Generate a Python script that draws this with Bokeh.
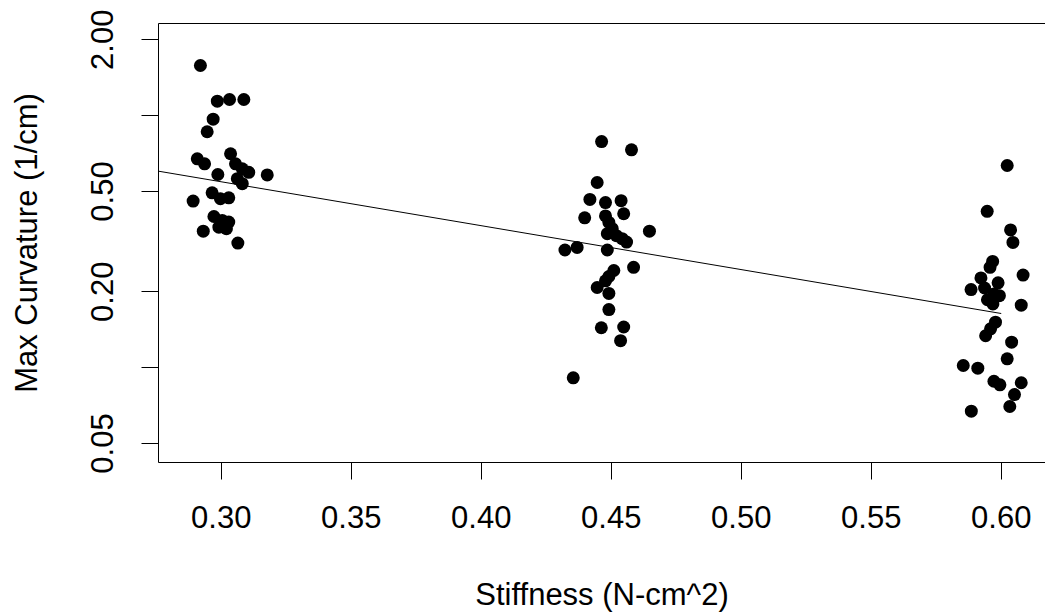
from bokeh.plotting import figure
from bokeh.models import (FixedTicker, CustomJSTickFormatter, LinearAxis,
                          Range1d, ColumnDataSource)
from bokeh.embed import file_html
from bokeh.resources import INLINE

# ---- data ----
stiff_g1 = [0.2920, 0.2985, 0.3032, 0.3087, 0.2969, 0.2946, 0.2908, 0.2936,
            0.3036, 0.3055, 0.3081, 0.3106, 0.3177, 0.2987, 0.3062, 0.3081,
            0.2965, 0.2892, 0.2997, 0.3029, 0.2972, 0.3004, 0.3029, 0.2991,
            0.2931, 0.3064, 0.3020]
curv_g1 = [1.581, 1.141, 1.159, 1.159, 0.968, 0.863, 0.674, 0.644,
           0.706, 0.644, 0.615, 0.596, 0.582, 0.584, 0.562, 0.537,
           0.494, 0.458, 0.468, 0.472, 0.398, 0.384, 0.378, 0.361,
           0.348, 0.312, 0.356]

stiff_g2 = [0.4463, 0.4578, 0.4446, 0.4418, 0.4478, 0.4538, 0.4548, 0.4398,
            0.4478, 0.4491, 0.4504, 0.4647, 0.4485, 0.4520, 0.4542, 0.4559,
            0.4322, 0.4369, 0.4485, 0.4586, 0.4510, 0.4491, 0.4478, 0.4446,
            0.4491, 0.4491, 0.4462, 0.4548, 0.4536, 0.4354]
curv_g2 = [0.789, 0.732, 0.543, 0.465, 0.452, 0.460, 0.408, 0.393,
           0.400, 0.377, 0.356, 0.348, 0.340, 0.334, 0.325, 0.315,
           0.293, 0.300, 0.293, 0.250, 0.243, 0.230, 0.221, 0.208,
           0.197, 0.170, 0.144, 0.145, 0.128, 0.0911]

stiff_g3 = [0.6023, 0.5946, 0.6036, 0.6045, 0.5967, 0.5957, 0.6084, 0.5922,
            0.5988, 0.5884, 0.5936, 0.5972, 0.5993, 0.5947, 0.5968, 0.6077,
            0.5978, 0.5959, 0.5940, 0.6040, 0.6023, 0.5854, 0.5910, 0.5972,
            0.5995, 0.6077, 0.6051, 0.6033, 0.5885]
curv_g3 = [0.634, 0.417, 0.352, 0.314, 0.264, 0.250, 0.233, 0.227,
           0.217, 0.204, 0.207, 0.196, 0.193, 0.186, 0.179, 0.177,
           0.1515, 0.1426, 0.1338, 0.1262, 0.1084, 0.1020, 0.0995, 0.0883,
           0.0855, 0.0871, 0.0782, 0.0701, 0.0672]

# fitted line (log-scale regression), end points
fit_x = [0.2759, 0.600]
fit_y = [0.602, 0.164]

x_ticks = [0.30, 0.35, 0.40, 0.45, 0.50, 0.55, 0.60]
x_tick_labels = ["0.30", "0.35", "0.40", "0.45", "0.50", "0.55", "0.60"]
y_ticks = [0.05, 0.1, 0.2, 0.5, 1.0, 2.0]
y_tick_labels = ["0.05", "", "0.20", "0.50", "", "2.00"]

x_title = "Stiffness (N-cm^2)"
y_title = "Max Curvature (1/cm)"

# ---- figure ----
FONT = "Liberation Sans"
p = figure(width=1045, height=615,
           x_range=Range1d(0.27588, 0.61703),
           y_range=Range1d(0.04203, 2.3211),
           y_axis_type="log",
           output_backend="svg", toolbar_location=None,
           min_border_left=158, min_border_right=0,
           min_border_top=23, min_border_bottom=153)
p.grid.visible = False
p.outline_line_color = None
p.background_fill_color = "white"
p.border_fill_color = "white"

pts = ColumnDataSource(dict(x=stiff_g1 + stiff_g2 + stiff_g3,
                            y=curv_g1 + curv_g2 + curv_g3))
p.scatter("x", "y", source=pts, size=13, fill_color="black",
          line_color=None, marker="circle")
p.line(fit_x, fit_y, line_color="black", line_width=1)

fmt_code = """
for (let i = 0; i < vals.length; i++) {
  if (Math.abs(tick - vals[i]) < 1e-6 * Math.abs(vals[i]) + 1e-12) return labs[i];
}
return "";
"""

def style_axis(ax):
    ax.axis_line_color = "black"
    ax.axis_line_width = 1
    ax.major_tick_line_color = "black"
    ax.major_tick_line_width = 1
    ax.major_tick_in = 0
    ax.major_tick_out = 17
    ax.minor_tick_line_color = None
    ax.major_label_text_font = FONT
    ax.major_label_text_font_size = "31px"
    ax.major_label_text_color = "black"
    ax.axis_label_text_font = FONT
    ax.axis_label_text_font_size = "31px"
    ax.axis_label_text_font_style = "normal"
    ax.axis_label_text_color = "black"

xa = p.xaxis[0]
style_axis(xa)
xa.ticker = FixedTicker(ticks=x_ticks)
xa.formatter = CustomJSTickFormatter(args=dict(vals=x_ticks, labs=x_tick_labels), code=fmt_code)
xa.major_label_standoff = 26
xa.axis_label = x_title
xa.axis_label_standoff = 46

ya = p.yaxis[0]
style_axis(ya)
ya.ticker = FixedTicker(ticks=y_ticks)
ya.formatter = CustomJSTickFormatter(args=dict(vals=y_ticks, labs=y_tick_labels), code=fmt_code)
ya.major_label_orientation = "vertical"
ya.major_label_standoff = 28
ya.axis_label = y_title
ya.axis_label_standoff = 45

top = LinearAxis(ticker=FixedTicker(ticks=[]), major_tick_out=0, major_tick_in=0,
                 minor_tick_line_color=None, major_label_text_font_size="0px",
                 major_label_standoff=0, axis_line_color="black", axis_line_width=1)
p.add_layout(top, "above")

open("out.html", "w").write(file_html(p, INLINE))
